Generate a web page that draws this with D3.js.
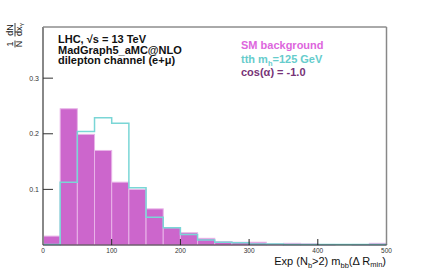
<!DOCTYPE html>
<html>
<head>
<meta charset="utf-8">
<script src="https://cdn.jsdelivr.net/npm/d3@7"></script>
<style>
  body { margin: 0; background: #fff; }
  text { font-family: "Liberation Sans", Arial, sans-serif; }
</style>
</head>
<body>
<div id="chart"></div>
<script>
// bin edges (width 25) and normalised contents
var binEdges = d3.range(0, 525, 25);
var bgValues = [0.016, 0.245, 0.199, 0.170, 0.113, 0.100, 0.065, 0.031, 0.022, 0.012,
                0.006, 0.005, 0.005, 0.002, 0.003, 0.002, 0.001, 0.000, 0.001, 0.003];
var tthValues = [0.001, 0.113, 0.204, 0.229, 0.219, 0.103, 0.050, 0.031, 0.019, 0.009,
                 0.005, 0.004, 0.002, 0.002, 0.001, 0.001, 0.001, 0.001, 0.001, 0.001];
var xTicks = [0, 100, 200, 300, 400, 500];
var yTicks = [0.1, 0.2, 0.3];

var svgWidth = 430, svgHeight = 273;
var margin = {top: 27, right: 43.5, bottom: 28, left: 43};
var width = svgWidth - margin.left - margin.right;
var height = svgHeight - margin.top - margin.bottom;

var svg = d3.select("#chart").append("svg")
  .attr("width", svgWidth)
  .attr("height", svgHeight);

var g = svg.append("g")
  .attr("transform", `translate(${margin.left}, ${margin.top})`);

var x = d3.scaleLinear().domain([0, 500]).range([0, width]);
var y = d3.scaleLinear().domain([0, 0.392]).range([height, 0]);

// background histogram (filled)
g.selectAll("rect.bg")
  .data(bgValues)
  .enter()
  .append("rect")
  .attr("class", "bg")
  .attr("x", (d, i) => x(binEdges[i]))
  .attr("y", d => y(d))
  .attr("width", (d, i) => x(binEdges[i + 1]) - x(binEdges[i]))
  .attr("height", d => y(0) - y(d))
  .attr("fill", "#cc66cc")
  .attr("stroke", "#e8b4e8")
  .attr("stroke-width", 1);

// tth histogram outline
var stepPts = [[binEdges[0], 0]];
tthValues.forEach(function(v, i) {
  stepPts.push([binEdges[i], v]);
  stepPts.push([binEdges[i + 1], v]);
});
stepPts.push([binEdges[binEdges.length - 1], 0]);

g.append("path")
  .attr("d", d3.line().x(d => x(d[0])).y(d => y(d[1]))(stepPts))
  .attr("fill", "none")
  .attr("stroke", "#7ad6d6")
  .attr("stroke-width", 1.5);

// frame
g.append("line").attr("x1", 0).attr("x2", width).attr("y1", 0).attr("y2", 0)
  .attr("stroke", "#555").attr("stroke-width", 1);
g.append("line").attr("x1", width).attr("x2", width).attr("y1", 0).attr("y2", height)
  .attr("stroke", "#888").attr("stroke-width", 1.5);
g.append("line").attr("x1", 0).attr("x2", 0).attr("y1", 0).attr("y2", height)
  .attr("stroke", "#888").attr("stroke-width", 2);
g.append("line").attr("x1", 0).attr("x2", width).attr("y1", height).attr("y2", height)
  .attr("stroke", "#333").attr("stroke-width", 1);

// x axis ticks (inside) and labels
var xAxis = g.append("g").attr("transform", `translate(0, ${height})`);
xAxis.selectAll("line")
  .data(xTicks.slice(1, -1))
  .enter()
  .append("line")
  .attr("x1", d => x(d)).attr("x2", d => x(d))
  .attr("y1", 0).attr("y2", -6)
  .attr("stroke", "#222").attr("stroke-width", 1);
xAxis.selectAll("text")
  .data(xTicks)
  .enter()
  .append("text")
  .attr("x", d => x(d))
  .attr("y", 8)
  .attr("text-anchor", "middle")
  .attr("font-size", "6.5px")
  .attr("fill", "#333")
  .text(d => d);

// y axis ticks and labels
var yAxis = g.append("g");
yAxis.selectAll("line")
  .data(yTicks)
  .enter()
  .append("line")
  .attr("x1", 0).attr("x2", 10)
  .attr("y1", d => y(d)).attr("y2", d => y(d))
  .attr("stroke", "#333").attr("stroke-width", 1);
yAxis.selectAll("text")
  .data(yTicks)
  .enter()
  .append("text")
  .attr("x", -4)
  .attr("y", d => y(d) + 2.5)
  .attr("text-anchor", "end")
  .attr("font-size", "7px")
  .attr("fill", "#333")
  .text(d => d.toFixed(1));

// x axis title
var xt = svg.append("text")
  .attr("x", 386)
  .attr("y", 265)
  .attr("text-anchor", "end")
  .attr("font-size", "11px")
  .attr("fill", "#111");
xt.append("tspan").text("Exp (N");
xt.append("tspan").attr("font-size", "7.5px").attr("dy", 3).text("b");
xt.append("tspan").attr("dy", -3).text(">2) m");
xt.append("tspan").attr("font-size", "7.5px").attr("dy", 3).text("bb");
xt.append("tspan").attr("dy", -3).text("(Δ R");
xt.append("tspan").attr("font-size", "7.5px").attr("dy", 2).text("min");
xt.append("tspan").attr("dy", -2).text(")");

// y axis title: 1/N dN/dx_Y, rotated
var yt = svg.append("g").attr("transform", "translate(13, 44) rotate(-90)");
yt.append("text").attr("x", 0).attr("y", 0).attr("text-anchor", "middle")
  .attr("font-size", "9px").attr("fill", "#111").text("1");
yt.append("text").attr("x", 0).attr("y", 9).attr("text-anchor", "middle")
  .attr("font-size", "9px").attr("fill", "#111").text("N");
yt.append("line").attr("x1", -3.5).attr("x2", 3.5).attr("y1", 2).attr("y2", 2)
  .attr("stroke", "#111").attr("stroke-width", 0.8);
yt.append("text").attr("x", 14).attr("y", 0).attr("text-anchor", "middle")
  .attr("font-size", "9px").attr("fill", "#111").text("dN");
var dx = yt.append("text").attr("x", 8).attr("y", 9)
  .attr("font-size", "9px").attr("fill", "#111");
dx.append("tspan").text("dx");
dx.append("tspan").attr("font-size", "6px").attr("dy", 2).text("Y");
yt.append("line").attr("x1", 7.5).attr("x2", 21).attr("y1", 2).attr("y2", 2)
  .attr("stroke", "#111").attr("stroke-width", 0.8);

// info text
var info = ["LHC, \u221As = 13 TeV", "MadGraph5_aMC@NLO", "dilepton channel (e+\u03BC)"];
svg.selectAll("text.info")
  .data(info)
  .enter()
  .append("text")
  .attr("class", "info")
  .attr("x", 58)
  .attr("y", (d, i) => 43 + i * 10.5)
  .attr("font-size", "11px")
  .attr("font-weight", "bold")
  .attr("fill", "#111")
  .text(d => d);

// legend
svg.append("text").attr("x", 241).attr("y", 49)
  .attr("font-size", "11px").attr("font-weight", "bold").attr("fill", "#dd66dd")
  .text("SM background");
var lt = svg.append("text").attr("x", 241).attr("y", 62.5)
  .attr("font-size", "11px").attr("font-weight", "bold").attr("fill", "#66cccc");
lt.append("tspan").text("tth  m");
lt.append("tspan").attr("font-size", "7.5px").attr("dy", 3).text("h");
lt.append("tspan").attr("dy", -3).text("=125 GeV");
svg.append("text").attr("x", 241).attr("y", 76)
  .attr("font-size", "11px").attr("font-weight", "bold").attr("fill", "#773377")
  .text("cos(\u03B1) = -1.0");
</script>
</body>
</html>
